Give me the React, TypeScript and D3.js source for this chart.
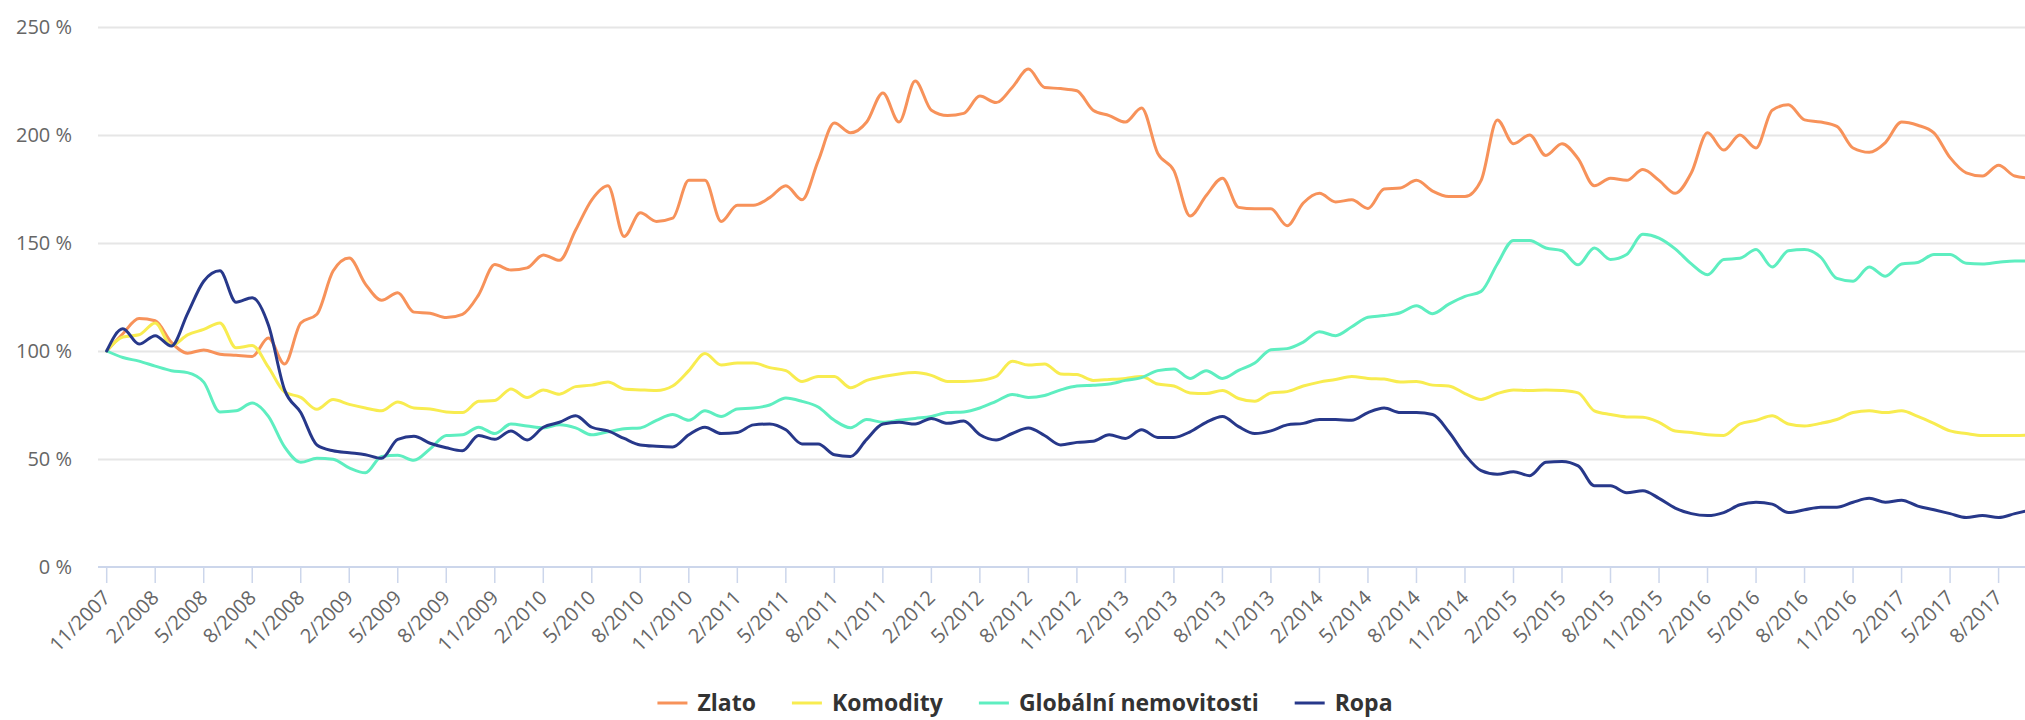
import React, { useEffect, useRef } from "react";
import * as d3 from "d3";

const WIDTH = 2025;
const HEIGHT = 720;

const START_YEAR = 2007;
const START_MONTH = 11;

const tickLabels = [
  "11/2007", "2/2008", "5/2008", "8/2008", "11/2008", "2/2009", "5/2009", "8/2009",
  "11/2009", "2/2010", "5/2010", "8/2010", "11/2010", "2/2011", "5/2011", "8/2011",
  "11/2011", "2/2012", "5/2012", "8/2012", "11/2012", "2/2013", "5/2013", "8/2013",
  "11/2013", "2/2014", "5/2014", "8/2014", "11/2014", "2/2015", "5/2015", "8/2015",
  "11/2015", "2/2016", "5/2016", "8/2016", "11/2016", "2/2017", "5/2017", "8/2017",
];

const yTicks = [0, 50, 100, 150, 200, 250];

const seriesNames = ["Zlato", "Komodity", "Globální nemovitosti", "Ropa"];
const seriesColors = ["#f7925a", "#f8ec50", "#5eeec0", "#27388a"];

const zlato = [
  100, 108, 115, 114, 104, 99, 100.5, 98.5, 98, 97.5,
  106, 94, 113, 117, 137, 143, 131, 123.5, 127, 118,
  117.5, 115.5, 117, 126, 140, 137.5, 138.5, 144.5, 142, 156,
  170, 176.5, 153, 164, 160, 161.5, 179, 179, 160, 167.5,
  167.5, 171, 176.5, 170, 188, 205.5, 201, 206, 219.5, 206,
  225, 211.5, 209, 210, 218, 215, 222, 230.5, 222, 221.5,
  220.5, 211.5, 209, 206, 212.5, 191.5, 183.5, 162.5, 172, 180,
  166.5, 165.8, 165.8, 158, 168.5, 173, 169, 170, 166, 175,
  175.5, 179, 174, 171.5, 171.5, 179, 207, 196, 200, 190.5,
  196, 189, 176.5, 180, 179, 184, 179, 173, 182.5, 201,
  193, 200, 194, 211.5, 214, 207, 206, 204, 194, 192,
  196.5, 206, 204.5, 201, 189.5, 182.5, 181, 186, 181, 180,
];

const komodity = [
  100, 106.5, 107.5, 113, 102.5, 107.5, 110, 113, 101.5, 102.5,
  92.5, 81, 78.5, 73, 77.5, 75.3, 73.6, 72.3, 76.4, 73.6,
  73.2, 71.8, 71.5, 76.7, 77.1, 82.4, 78.5, 82, 80, 83.5,
  84.2, 85.6, 82.4, 82, 81.7, 83.8, 90.9, 98.8, 93.5, 94.4,
  94.4, 92.3, 90.9, 85.9, 88.2, 88.2, 83, 86.4, 88.2, 89.4,
  90, 88.7, 85.9, 85.9, 86.4, 88.2, 95.3, 93.5, 94, 89.4,
  89.1, 86.4, 86.8, 87.3, 88.2, 84.7, 83.8, 80.6, 80.3, 81.7,
  78, 76.7, 80.6, 81.2, 83.8, 85.6, 86.8, 88.2, 87.3, 87,
  85.6, 85.9, 84.2, 83.8, 80.3, 77.6, 80.3, 82, 81.7, 82,
  81.7, 80.6, 72.3, 70.6, 69.5, 69.3, 67, 63, 62.3, 61.2,
  60.9, 66.2, 67.9, 70, 66.2, 65.3, 66.5, 68.3, 71.5, 72.3,
  71.5, 72.3, 69.7, 66.5, 63, 61.8, 60.9, 60.9, 60.9, 61.2,
];

const nemovitosti = [
  100, 97, 95.3, 93, 90.9, 90, 85.6, 71.8, 72.3, 75.9,
  69.7, 55.6, 48.5, 50.3, 49.9, 45.9, 43.6, 51.2, 51.7, 49.4,
  54.7, 60.9, 61.2, 64.7, 61.8, 66.2, 65.3, 64.4, 65.8, 64.4,
  61.2, 62.6, 64, 64.4, 67.9, 70.6, 67.9, 72.3, 69.7, 73.2,
  73.6, 75, 78.2, 76.7, 74.1, 67.9, 64.5, 68.3, 67, 67.9,
  68.8, 69.7, 71.5, 71.8, 73.6, 76.7, 79.9, 78.5, 79.4, 82,
  83.8, 84.2, 84.7, 86.4, 87.7, 90.9, 91.7, 87.3, 90.9, 87.3,
  91, 94.4, 100.6, 101.1, 104.1, 108.9, 107.1, 111.2, 115.6, 116.4,
  117.7, 120.9, 117.3, 121.7, 125.3, 127.6, 140.3, 151.2, 151.2, 147.7,
  146.4, 139.9, 147.7, 142.4, 144.7, 154, 152.3, 147.3, 140.3, 135.3,
  142.4, 142.9, 147, 138.9, 146.4, 147, 143.4, 133.6, 132.3, 138.9,
  134.6, 140.3, 141, 144.7, 144.7, 140.6, 140.3, 141.1, 141.7, 141.7,
];

const ropa = [
  100, 110.3, 103.2, 107.1, 102.3, 117.3, 132.3, 137.1, 122.6, 124.7,
  112, 82, 71.5, 56.5, 53.8, 52.9, 52, 50.3, 59.1, 60.5,
  57.3, 55.2, 53.8, 60.9, 59.1, 63, 58.8, 64.7, 67, 70,
  64.7, 63, 59.5, 56.5, 55.9, 55.6, 61.2, 64.7, 61.8, 62.3,
  65.8, 66.2, 63.5, 57, 57, 52, 51.2, 59.1, 66.2, 67,
  66.2, 68.8, 66.5, 67.6, 61.2, 58.8, 61.8, 64.4, 60.9, 56.5,
  57.7, 58.2, 61.2, 59.5, 63.5, 60, 60, 62.6, 67, 69.7,
  65, 61.8, 63, 65.8, 66.5, 68.3, 68.3, 67.9, 71.5, 73.6,
  71.5, 71.5, 70.6, 62.6, 52, 44.6, 42.9, 44.1, 42.3, 48.5,
  48.9, 46.8, 37.6, 37.6, 34.4, 35.3, 31.8, 27.3, 24.7, 23.8,
  25.2, 28.8, 30, 29.1, 25.2, 26.5, 27.7, 27.7, 30, 31.8,
  30, 30.9, 28.2, 26.5, 24.7, 22.9, 23.8, 22.9, 24.7, 26.5,
];

const seriesValues = [zlato, komodity, nemovitosti, ropa];

const months = zlato.map((_, i) => {
  const t = START_MONTH - 1 + i;
  return `${(t % 12) + 1}/${START_YEAR + Math.floor(t / 12)}`;
});

const FONT = "'Open Sans', 'Noto Sans', sans-serif";

export default function App() {
  const ref = useRef<SVGSVGElement | null>(null);

  useEffect(() => {
    const svg = d3.select(ref.current);
    svg.selectAll("*").remove();

    const plotLeft = 98;
    const plotRight = WIDTH;
    const plotTop = 0;
    const plotBottom = 567;

    const x = d3
      .scalePoint<string>()
      .domain(months)
      .range([106.7, 106.7 + 16.17 * (months.length - 1)]);
    const y = d3.scaleLinear().domain([0, 250]).range([567, 27]);

    svg
      .append("rect")
      .attr("width", WIDTH)
      .attr("height", HEIGHT)
      .attr("fill", "#ffffff");

    // grid lines
    svg
      .append("g")
      .selectAll("line")
      .data(yTicks.filter((t) => t > 0))
      .join("line")
      .attr("x1", plotLeft)
      .attr("x2", plotRight)
      .attr("y1", (d) => Math.round(y(d)) + 0.5)
      .attr("y2", (d) => Math.round(y(d)) + 0.5)
      .attr("stroke", "#e6e6e6")
      .attr("stroke-width", 2);

    // y labels
    svg
      .append("g")
      .selectAll("text")
      .data(yTicks)
      .join("text")
      .attr("x", 72)
      .attr("y", (d) => y(d))
      .attr("dy", "0.35em")
      .attr("text-anchor", "end")
      .attr("fill", "#666666")
      .style("font-family", FONT)
      .style("font-size", "20px")
      .text((d) => `${d} %`);

    // x axis line
    svg
      .append("line")
      .attr("x1", plotLeft)
      .attr("x2", plotRight)
      .attr("y1", y(0))
      .attr("y2", y(0))
      .attr("stroke", "#ccd6eb")
      .attr("stroke-width", 2);

    // ticks
    svg
      .append("g")
      .selectAll("line")
      .data(tickLabels)
      .join("line")
      .attr("x1", (d) => x(d)!)
      .attr("x2", (d) => x(d)!)
      .attr("y1", y(0))
      .attr("y2", y(0) + 16)
      .attr("stroke", "#ccd6eb")
      .attr("stroke-width", 1.5);

    // x labels
    svg
      .append("g")
      .selectAll("text")
      .data(tickLabels)
      .join("text")
      .attr("transform", (d) => `translate(${x(d)! + 5},${599}) rotate(-45)`)
      .attr("text-anchor", "end")
      .attr("fill", "#666666")
      .style("font-family", FONT)
      .style("font-size", "20px")
      .text((d) => d);

    // clip
    svg
      .append("defs")
      .append("clipPath")
      .attr("id", "plotclip")
      .append("rect")
      .attr("x", plotLeft)
      .attr("y", plotTop)
      .attr("width", plotRight - plotLeft)
      .attr("height", plotBottom - plotTop + 20);

    const line = d3
      .line<number>()
      .x((_, i) => x(months[i])!)
      .y((d) => y(d))
      .curve(d3.curveMonotoneX);

    const lines = svg.append("g").attr("clip-path", "url(#plotclip)");
    seriesValues.forEach((vals, si) => {
      lines
        .append("path")
        .attr("d", line(vals))
        .attr("fill", "none")
        .attr("stroke", seriesColors[si])
        .attr("stroke-width", 3)
        .attr("stroke-linejoin", "round")
        .attr("stroke-linecap", "round");
    });

    // legend
    const legend = svg.append("g");
    const legendY = 703;
    const symW = 30;
    const textGap = 10;
    const itemGap = 36;
    const items = seriesNames.map((name, i) => {
      const g = legend.append("g");
      g.append("line")
        .attr("x1", 0)
        .attr("x2", symW)
        .attr("y1", 0)
        .attr("y2", 0)
        .attr("stroke", seriesColors[i])
        .attr("stroke-width", 3);
      const t = g
        .append("text")
        .attr("x", symW + textGap)
        .attr("y", 0)
        .attr("dy", "0.36em")
        .attr("fill", "#333333")
        .style("font-family", FONT)
        .style("font-size", "23px")
        .style("font-weight", 700)
        .text(name);
      const w = (t.node() as SVGTextElement).getComputedTextLength();
      return { g, w: symW + textGap + w };
    });
    const total = d3.sum(items, (d) => d.w) + itemGap * (items.length - 1);
    let cx = 1025 - total / 2;
    items.forEach((it) => {
      it.g.attr("transform", `translate(${cx},${legendY})`);
      cx += it.w + itemGap;
    });
  }, []);

  return (
    <div style={{ position: "absolute", left: 0, top: 0 }}>
      <svg ref={ref} width={WIDTH} height={HEIGHT} style={{ display: "block" }} />
    </div>
  );
}
